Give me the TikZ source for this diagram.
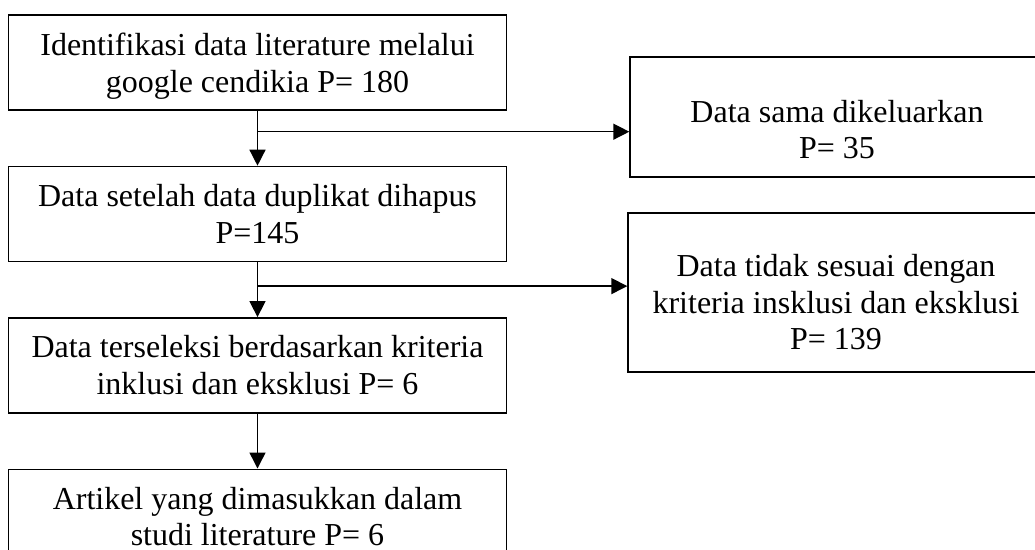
\documentclass[tikz,border=0pt]{standalone}
\usepackage{fontspec}
\setmainfont{Liberation Serif}
\usepackage{tikz}
\usetikzlibrary{arrows.meta,positioning}

\newcommand{\lowstrut}[1]{\rule{0pt}{#1}}

\begin{document}
\begin{tikzpicture}
	\clip (0,0) rectangle (20.7,-11);
	\begin{scope}[every node/.style={rectangle,draw,line width=0.8pt,align=center,font=\fontsize{18.2pt}{20.8pt}\selectfont,minimum height=1.9cm,minimum width=9.96cm,inner sep=2pt}]
		\node (ident) at (5.15,-1.25) {\lowstrut{17pt}Identifikasi data literature melalui\\ google cendikia P= 180};
		\node[below =1.1cm of ident] (dupl) {Data setelah data duplikat dihapus\\ P=145};
		\node[below =1.1cm of dupl] (seleksi) {Data terseleksi berdasarkan kriteria\\ inklusi dan eksklusi P= 6};
		\node[below =1.1cm of seleksi] (artikel) {Artikel yang dimasukkan dalam\\ studi literature P= 6};
		\node[minimum width=8.28cm,minimum height=2.4cm] (sama) at (16.74,-2.34) {\lowstrut{27pt}Data sama dikeluarkan\\ P= 35};
		\node[minimum width=8.32cm,minimum height=3.18cm] (tidak) at (16.72,-5.85) {\lowstrut{24pt}Data tidak sesuai dengan\\ kriteria insklusi dan eksklusi\\ P= 139};
	\end{scope}

	\begin{scope}[line width=0.8pt]
	\coordinate (c1) at ([yshift=-0.42cm]ident.south);
	\coordinate (c2) at ([yshift=-0.48cm]dupl.south);
	\draw[-{Triangle[length=3.2mm,width=3.2mm]}] (ident) edge (dupl);
	\draw[-{Triangle[length=3.2mm,width=3.2mm]}] (c1) -- (c1-|sama.west);
	\draw[-{Triangle[length=3.2mm,width=3.2mm]}] (dupl) edge (seleksi);
	\draw[-{Triangle[length=3.2mm,width=3.2mm]}] (c2) -- (c2-|tidak.west);
	\draw[-{Triangle[length=3.2mm,width=3.2mm]}] (seleksi) edge (artikel);
	\end{scope}
\end{tikzpicture}
\end{document}
